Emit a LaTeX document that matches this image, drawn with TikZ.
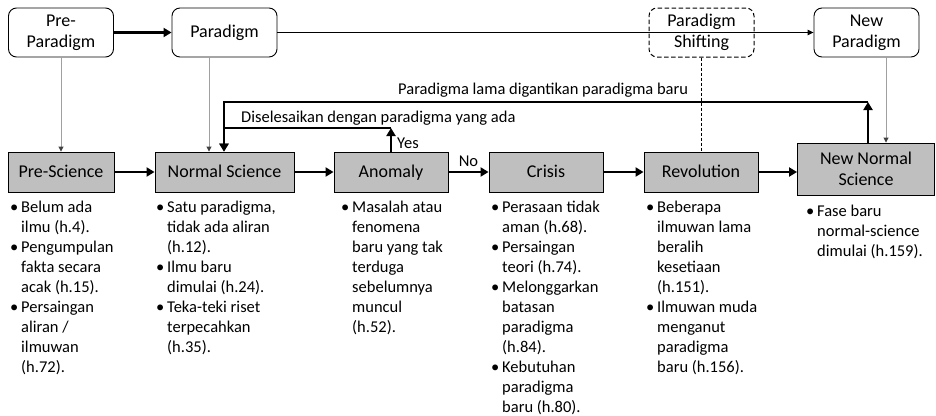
\documentclass[tikz,border=0pt]{standalone}
\usepackage{fontspec}
\setmainfont{Carlito}
\usetikzlibrary{arrows.meta}

\definecolor{stagegray}{RGB}{191,191,191}
\definecolor{feedgray}{RGB}{160,160,160}

\newcommand\stagefont{\fontsize{18}{21}\selectfont}
\newcommand\notefont{\fontsize{16.5}{20}\selectfont}
\newcommand\notebul{\makebox[11pt][l]{\textbullet}}
\newcommand\noteind{\hspace*{11pt}}

\begin{document}
\begin{tikzpicture}[x=1pt,y=-1pt,
  topbox/.style={draw=black, line width=0.9pt, rounded corners=8pt,
    minimum width=105pt, minimum height=49pt, inner sep=0pt,
    align=center, font=\stagefont},
  shiftbox/.style={topbox, line width=1pt, dash pattern=on 4.5pt off 2.5pt},
  stage/.style={draw=black, fill=stagegray, line width=0.9pt,
    minimum height=40pt, inner sep=0pt, align=center, font=\stagefont},
  oneline/.style={text height=12pt, text depth=1.5pt},
  flow/.style={line width=2.2pt, -{Triangle[length=8pt,width=9pt]}},
  link/.style={line width=1pt, -{Triangle[length=6pt,width=5.5pt]}},
  feed/.style={draw=feedgray, line width=0.9pt,
    -{Triangle[length=5pt,width=5pt,color=black!75]}},
  shiftline/.style={line width=0.8pt, dash pattern=on 3pt off 2pt},
  lab/.style={font=\notefont, inner sep=0pt},
  notes/.style={anchor=base west, inner sep=0pt, font=\notefont}]

\useasboundingbox (0,0) rectangle (936,415);

% paradigm row
\node[topbox] (prepar) at (61,32.5)    {Pre-\\Paradigm};
\node[topbox, oneline] (par) at (224.5,32.5) {Paradigm};
\node[shiftbox] (shift) at (701.5,32.5) {Paradigm\\Shifting};
\node[topbox] (newpar) at (866.5,32.5) {New\\Paradigm};

% science row
\node[stage, oneline, minimum width=106pt] (presci) at (61,172)    {Pre-Science};
\node[stage, oneline, minimum width=139pt] (normal) at (224.5,172) {Normal Science};
\node[stage, oneline, minimum width=114pt] (anom)   at (391,172)   {Anomaly};
\node[stage, oneline, minimum width=114pt] (crisis) at (546,172)   {Crisis};
\node[stage, oneline, minimum width=114pt] (revo)   at (701,172)   {Revolution};
\node[stage, minimum width=137pt, minimum height=52pt] (newnorm) at (866,169) {New Normal\\Science};

% helper points for the loops and drop lines
\coordinate (xpar)  at (209,0);
\coordinate (xnew)  at (886,0);
\coordinate (yescorner) at (391,128);
\coordinate (loopin)    at (224,128);
\coordinate (loopout)   at (224,102);
\coordinate (newcorner) at (868,102);

% top row connectors
\draw[flow] (prepar.east) -- (par.west);
\draw[link] (par.east) -- (newpar.west);

% drops from the paradigm row
\draw[feed] (prepar.south) -- (presci.north);
\draw[feed] (par.south -| xpar) -- (normal.north -| xpar);
\draw[feed] (newpar.south -| xnew) -- (newnorm.north -| xnew);
\draw[shiftline] (shift.south) -- (shift.south |- revo.north);

% science row sequence
\draw[flow] (presci.east) -- (normal.west);
\draw[flow] (normal.east) -- (anom.west);
\draw[flow] (anom.east) -- node[lab, above=4pt] {No} (crisis.west);
\draw[flow] (crisis.east) -- (revo.west);
\draw[flow] (revo.east) -- (revo.east -| newnorm.west);

% anomaly solved within the paradigm
\draw[flow] (anom.north) -- (yescorner);
\draw[flow] (yescorner) -- (loopin) -- (normal.north -| loopin);
\node[lab, anchor=west] (yes) at (397,143) {Yes};
\node[lab, anchor=west] (solved) at (241,118) {Diselesaikan dengan paradigma yang ada};

% old paradigm replaced by the new one
\draw[flow] (newnorm.north -| newcorner) -- (newcorner);
\draw[flow] (newcorner) -- (loopout) -- (normal.north -| loopout);
\node[lab, anchor=west] (replaced) at (398,90) {Paradigma lama digantikan paradigma baru};

% notes under each stage
\node[notes] (n1) at (10,212) {\parbox[t]{140pt}{\raggedright\notefont
  \notebul Belum ada\\ \noteind ilmu (h.4).\\
  \notebul Pengumpulan\\ \noteind fakta secara\\ \noteind acak (h.15).\\
  \notebul Persaingan\\ \noteind aliran /\\ \noteind ilmuwan\\ \noteind (h.72).}};
\node[notes] (n2) at (156,212) {\parbox[t]{150pt}{\raggedright\notefont
  \notebul Satu paradigma,\\ \noteind tidak ada aliran\\ \noteind (h.12).\\
  \notebul Ilmu baru\\ \noteind dimulai (h.24).\\
  \notebul Teka-teki riset\\ \noteind terpecahkan\\ \noteind (h.35).}};
\node[notes] (n3) at (341,212) {\parbox[t]{150pt}{\raggedright\notefont
  \notebul Masalah atau\\ \noteind fenomena\\ \noteind baru yang tak\\
  \noteind terduga\\ \noteind sebelumnya\\ \noteind muncul\\ \noteind (h.52).}};
\node[notes] (n4) at (491,212) {\parbox[t]{150pt}{\raggedright\notefont
  \notebul Perasaan tidak\\ \noteind aman (h.68).\\
  \notebul Persaingan\\ \noteind teori (h.74).\\
  \notebul Melonggarkan\\ \noteind batasan\\ \noteind paradigma\\ \noteind (h.84).\\
  \notebul Kebutuhan\\ \noteind paradigma\\ \noteind baru (h.80).}};
\node[notes] (n5) at (646,212) {\parbox[t]{150pt}{\raggedright\notefont
  \notebul Beberapa\\ \noteind ilmuwan lama\\ \noteind beralih\\
  \noteind kesetiaan\\ \noteind (h.151).\\
  \notebul Ilmuwan muda\\ \noteind menganut\\ \noteind paradigma\\ \noteind baru (h.156).}};
\node[notes] (n6) at (806,216) {\parbox[t]{150pt}{\raggedright\notefont
  \notebul Fase baru\\ \noteind normal-science\\ \noteind dimulai (h.159).}};

\end{tikzpicture}
\end{document}
